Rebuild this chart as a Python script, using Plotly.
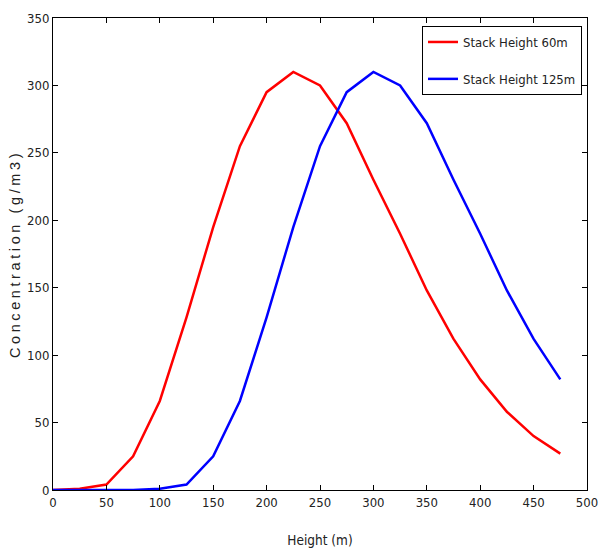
import plotly.graph_objects as go

heights = [0, 25, 50, 75, 100, 125, 150, 175, 200, 225, 250, 275, 300, 325, 350, 375, 400, 425, 450, 475]
conc_60 = [0, 1, 4, 25, 66, 128, 195, 255, 295, 310, 300, 272, 230, 190, 148, 112, 82, 58, 40, 27]
conc_125 = [0, 0, 0, 0, 1, 4, 25, 66, 128, 195, 255, 295, 310, 300, 272, 230, 190, 148, 112, 82]
x_ticks = [0, 50, 100, 150, 200, 250, 300, 350, 400, 450, 500]
y_ticks = [0, 50, 100, 150, 200, 250, 300, 350]

narrow = "DejaVu Sans Condensed, Liberation Sans Narrow, Arial Narrow, sans-serif"

fig = go.Figure()
fig.add_trace(go.Scatter(x=heights, y=conc_60, mode="lines", name="Stack Height 60m",
                         legendgroup="a", line=dict(color="#ff0000", width=2.5)))
fig.add_trace(go.Scatter(x=heights, y=conc_125, mode="lines", name="Stack Height 125m",
                         legendgroup="b", line=dict(color="#0000ff", width=2.5)))

axis_common = dict(showgrid=False, zeroline=False, showline=True, linecolor="black", linewidth=1,
                   mirror="ticks", ticks="inside", ticklen=5, tickcolor="black", automargin=False,
                   ticklabeloverflow="allow",
                   tickfont=dict(family=narrow, size=13, color="#222"))

fig.update_layout(
    width=598, height=552,
    margin=dict(l=53, r=11, t=18, b=62),
    paper_bgcolor="white", plot_bgcolor="white",
    xaxis=dict(range=[0, 500], tickvals=x_ticks,
               title=dict(text="Height (m)", font=dict(family=narrow, size=13.5, color="#222"), standoff=26),
               **axis_common),
    yaxis=dict(range=[0, 350], tickvals=y_ticks,
               title=dict(text="Concentration (g/m3)", font=dict(family="Liberation Sans, Arial", size=14.5, color="#222"), standoff=2),
               **axis_common),
    legend=dict(x=0.691, y=0.983, xanchor="left", yanchor="top",
                bordercolor="black", borderwidth=1, bgcolor="white",
                font=dict(family=narrow, size=13, color="#222"),
                tracegroupgap=17),
    showlegend=True,
)

post = "document.querySelectorAll('.ytitle').forEach(function(e){e.style.letterSpacing='3.6px';});"
fig.write_html("out.html", post_script=post)
